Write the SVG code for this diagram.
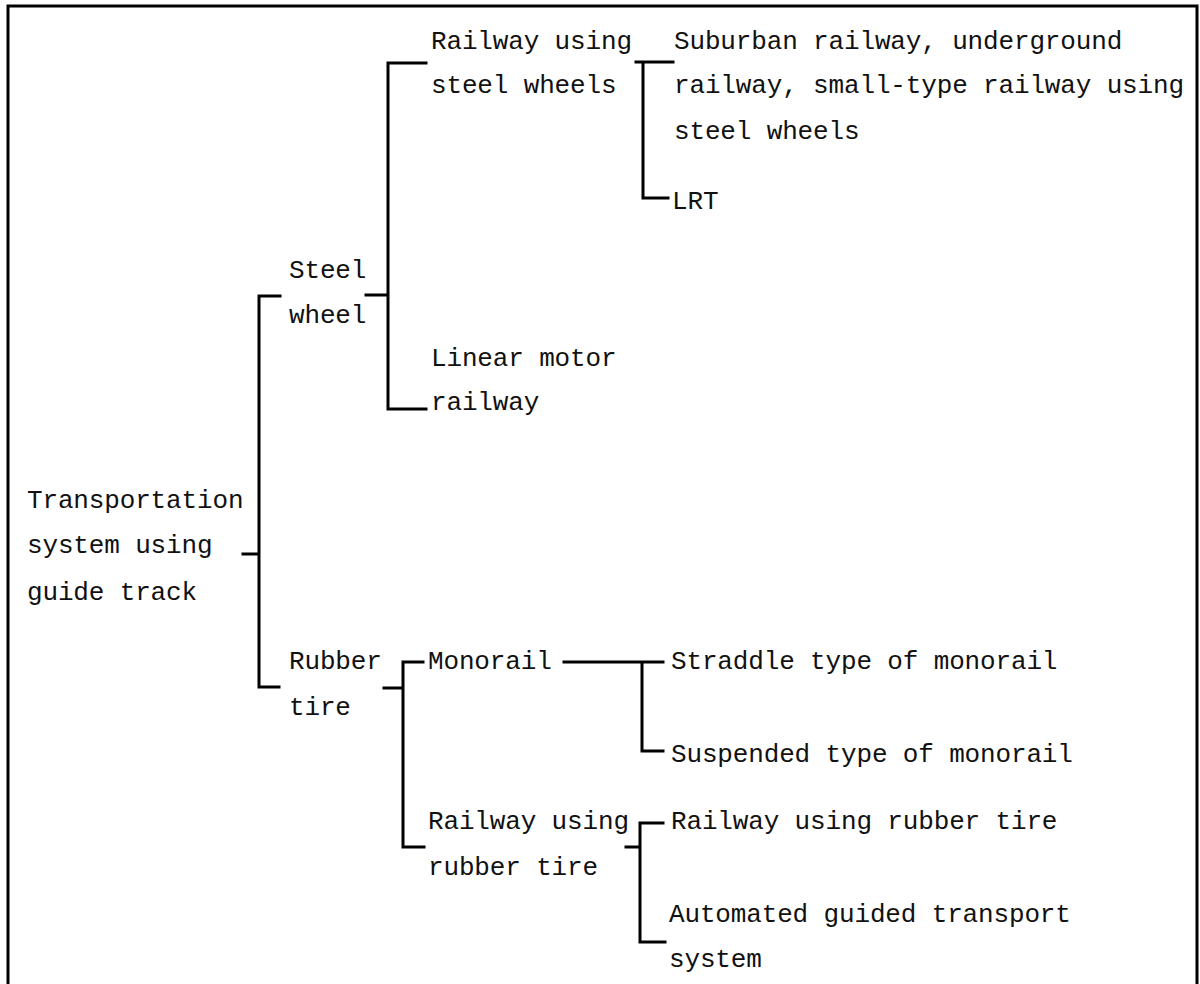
<svg xmlns="http://www.w3.org/2000/svg" width="1200" height="984" viewBox="0 0 1200 984">
<style>
.t{font-family:"Liberation Mono","Courier New",monospace;font-size:26px;letter-spacing:-0.15px;fill:#111}
.c{fill:none;stroke:#000;stroke-width:3;stroke-linecap:square}
.f{fill:none;stroke:#000;stroke-width:3}
</style>
<rect width="1200" height="984" fill="#fff"/>
<path class="f" d="M8,984 V6 H1197 V984"/>
<g id="connectors">
<path class="c" d="M243,554 H259 M280,296 H259 V687 H279"/>
<path class="c" d="M366,295 H388 M426,63 H388 V409 H426"/>
<path class="c" d="M636,62 H673 M643,62 V198 H668"/>
<path class="c" d="M384,688 H403 M423,662 H403 V847 H424"/>
<path class="c" d="M564,662 H663 M642,662 V751 H663"/>
<path class="c" d="M626,847 H640 M663,823 H640 V942 H665"/>
</g>
<g id="root"><text class="t" x="27" y="508">Transportation</text><text class="t" x="27" y="553">system using</text><text class="t" x="27" y="600">guide track</text></g>
<g id="steel-wheel"><text class="t" x="289" y="278">Steel</text><text class="t" x="289" y="323">wheel</text></g>
<g id="rubber-tire"><text class="t" x="289" y="669">Rubber</text><text class="t" x="289" y="715">tire</text></g>
<g id="railway-steel"><text class="t" x="431" y="49">Railway using</text><text class="t" x="431" y="93">steel wheels</text></g>
<g id="linear-motor"><text class="t" x="431" y="366">Linear motor</text><text class="t" x="431" y="410">railway</text></g>
<g id="suburban"><text class="t" x="674" y="49">Suburban railway, underground</text><text class="t" x="674" y="93">railway, small-type railway using</text><text class="t" x="674" y="139">steel wheels</text></g>
<g id="lrt"><text class="t" x="672" y="209">LRT</text></g>
<g id="monorail"><text class="t" x="428" y="669">Monorail</text></g>
<g id="railway-rubber"><text class="t" x="428" y="829">Railway using</text><text class="t" x="428" y="875">rubber tire</text></g>
<g id="straddle"><text class="t" x="671" y="669">Straddle type of monorail</text></g>
<g id="suspended"><text class="t" x="671" y="762">Suspended type of monorail</text></g>
<g id="railway-rubber-tire"><text class="t" x="671" y="829">Railway using rubber tire</text></g>
<g id="agt"><text class="t" x="669" y="922">Automated guided transport</text><text class="t" x="669" y="967">system</text></g>
</svg>
